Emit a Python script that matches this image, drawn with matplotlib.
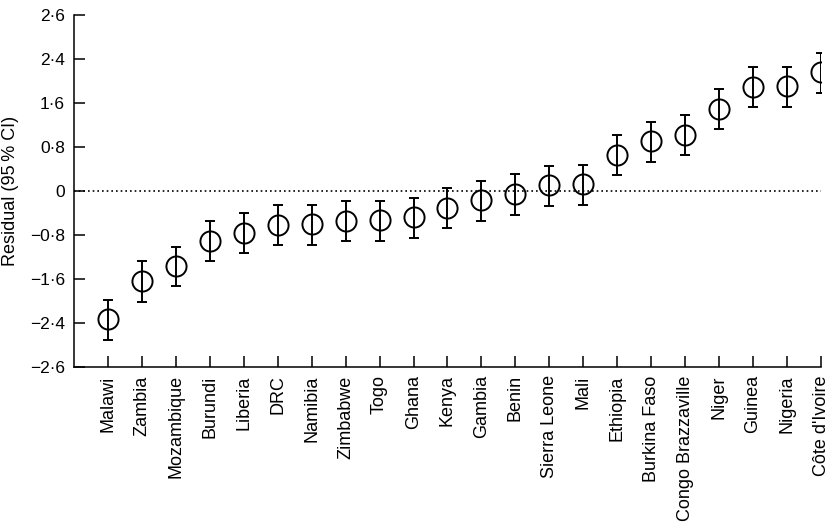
import numpy as np
import matplotlib.pyplot as plt

plt.rcParams['font.family'] = ['Liberation Sans', 'DejaVu Sans']

countries = ['Malawi', 'Zambia', 'Mozambique', 'Burundi', 'Liberia', 'DRC',
             'Namibia', 'Zimbabwe', 'Togo', 'Ghana', 'Kenya', 'Gambia', 'Benin',
             'Sierra Leone', 'Mali', 'Ethiopia', 'Burkina Faso',
             'Congo Brazzaville', 'Niger', 'Guinea', 'Nigeria', "Côte d'Ivoire"]
residual = [-2.33, -1.63, -1.36, -0.90, -0.76, -0.61, -0.60, -0.54, -0.53,
            -0.48, -0.30, -0.17, -0.06, 0.10, 0.13, 0.66, 0.91, 1.02, 1.49,
            1.89, 1.90, 2.16]
ci_low = [-2.71, -2.01, -1.73, -1.27, -1.13, -0.99, -0.98, -0.91, -0.90,
          -0.85, -0.67, -0.54, -0.44, -0.28, -0.25, 0.29, 0.53, 0.65, 1.13,
          1.53, 1.53, 1.79]
ci_high = [-1.98, -1.28, -1.01, -0.55, -0.40, -0.26, -0.25, -0.19, -0.18,
           -0.13, 0.05, 0.18, 0.30, 0.45, 0.48, 1.01, 1.26, 1.38, 1.85,
           2.25, 2.25, 2.51]
ytick_vals = [-3.2, -2.4, -1.6, -0.8, 0, 0.8, 1.6, 2.4, 3.2]
ytick_labels = ['\u22122·6', '\u22122·4', '\u22121·6', '\u22120·8', '0',
                '0·8', '1·6', '2·4', '2·6']

res = np.array(residual)
yerr = np.vstack([res - np.array(ci_low), np.array(ci_high) - res])
x = np.arange(len(countries))

fig = plt.figure(figsize=(8.32, 5.22), dpi=100)
ax = fig.add_axes([0.0889, 0.2969, 0.8979, 0.6744])

ax.axhline(0, color='black', linestyle=(0, (1, 1.8)), linewidth=1.2, zorder=1)
ax.errorbar(x, res, yerr=yerr, fmt='o', markersize=14.5, markerfacecolor='none',
            markeredgecolor='black', markeredgewidth=1.4, ecolor='black',
            elinewidth=1.4, capsize=3.5, capthick=1.4, zorder=3)

ax.set_xlim(-1, len(countries) - 1)
ax.set_ylim(-3.2, 3.2)
ax.set_xticks(x)
ax.set_xticklabels(countries, rotation=90, fontsize=13)
ax.set_yticks(ytick_vals)
ax.set_yticklabels(ytick_labels, fontsize=12.5)
ax.tick_params(axis='both', direction='in', length=8, width=1.1)
ax.tick_params(axis='y', pad=6.5)
ax.tick_params(axis='x', pad=6)

for side in ['top', 'right']:
    ax.spines[side].set_visible(False)
for side in ['left', 'bottom']:
    ax.spines[side].set_linewidth(1.1)

ax.set_ylabel('Residual (95\u2009% CI)', fontsize=13)
ax.yaxis.set_label_coords(-0.074, 0.5)

fig.savefig('out.png', dpi=100)
